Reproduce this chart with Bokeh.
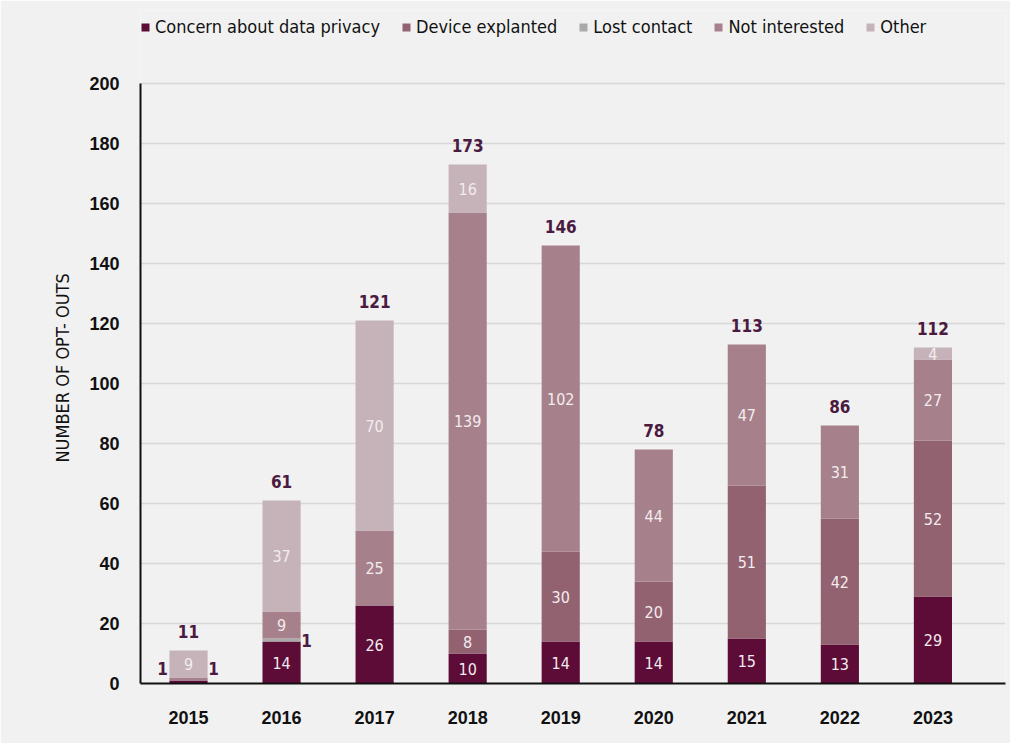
from bokeh.plotting import figure
from bokeh.models import ColumnDataSource, Legend, LegendItem, FixedTicker, Range1d, Title
from bokeh.core.properties import value
from bokeh.embed import file_html
from bokeh.resources import INLINE

years = ["2015", "2016", "2017", "2018", "2019", "2020", "2021", "2022", "2023"]
concern = [1, 14, 26, 10, 14, 14, 15, 13, 29]
device = [0, 0, 0, 8, 30, 20, 51, 42, 52]
lost = [0, 1, 0, 0, 0, 0, 0, 0, 0]
not_int = [1, 9, 25, 139, 102, 44, 47, 31, 27]
other = [9, 37, 70, 16, 0, 0, 0, 0, 4]
series_names = ["Concern about data privacy", "Device explanted", "Lost contact", "Not interested", "Other"]
y_ticks = [0, 20, 40, 60, 80, 100, 120, 140, 160, 180, 200]
y_title = "NUMBER OF OPT- OUTS"

FONT = "DejaVu Sans Condensed"
BFONT = "Liberation Sans"
BG = "#f1f1f1"
colors = ["#5d0b37", "#936270", "#a9a9a9", "#a6818b", "#c6b3b9"]
keys = ["concern", "device", "lost", "not_int", "other"]
series = [concern, device, lost, not_int, other]

xs = list(range(len(years)))
src = ColumnDataSource(dict(x=xs, concern=concern, device=device, lost=lost,
                            not_int=not_int, other=other))

TOP = 10
BOTTOM = 683
p = figure(width=1010, height=743, output_backend="svg", toolbar_location=None,
           x_range=Range1d(-0.516, 8.78), y_range=Range1d(0, 200 * (BOTTOM - TOP) / 600),
           background_fill_color=BG, border_fill_color=BG,
           min_border_left=140, min_border_right=5, min_border_top=TOP,
           min_border_bottom=743 - BOTTOM)
p.outline_line_color = None

renderers = p.vbar_stack(keys, x="x", width=0.41, color=colors, line_color=None, source=src)

# labels
in_x, in_y, in_t = [], [], []
out_x, out_y, out_t, out_off = [], [], [], []
for i in xs:
    base = 0
    for k, s in enumerate(series):
        v = s[i]
        if v <= 0:
            continue
        c = base + v / 2
        if v >= 2:
            in_x.append(i); in_y.append(c); in_t.append(str(v))
        else:
            out_x.append(i); out_y.append(max(c, 5)); out_t.append(str(v))
            out_off.append(-26 if k == 0 else 25)
        base += v
tot = [sum(s[i] for s in series) for i in xs]

p.text(x=in_x, y=in_y, text=in_t, text_font=value(FONT), text_font_size="16px",
       text_color="#f3ecef", text_align="center", text_baseline="middle")
p.text(x=out_x, y=out_y, text=out_t, x_offset=out_off, text_font=value(FONT),
       text_font_size="17px", text_font_style="bold",
       text_color="#4a1a40", text_align="center", text_baseline="middle")
p.text(x=xs, y=tot, text=[str(t) for t in tot], y_offset=-19, text_font=value(FONT),
       text_font_size="17px", text_font_style="bold",
       text_color="#4a1a40", text_align="center", text_baseline="middle")

# axes
p.xaxis.ticker = FixedTicker(ticks=xs)
p.xaxis.major_label_overrides = {i: y for i, y in zip(xs, years)}
p.yaxis.ticker = FixedTicker(ticks=y_ticks)
p.yaxis.bounds = (0, 200)
for ax in (p.xaxis, p.yaxis):
    ax.axis_line_color = "#111111"
    ax.axis_line_width = 2
    ax.major_tick_line_color = None
    ax.minor_tick_line_color = None
    ax.major_label_text_font = BFONT
    ax.major_label_text_font_size = "18px"
    ax.major_label_text_font_style = "bold"
    ax.major_label_text_color = "#111111"
p.xaxis.major_label_standoff = 21
p.yaxis.major_label_standoff = 15

ytitle = Title(text=y_title, align="left", offset=221, standoff=27,
               text_font=FONT, text_font_size="18px", text_font_style="normal",
               text_color="#111111")
p.add_layout(ytitle, "left")

p.xgrid.grid_line_color = None
p.ygrid.grid_line_color = "#d8d8d8"
p.ygrid.grid_line_width = 1.5
p.ygrid.ticker = FixedTicker(ticks=y_ticks)

legend = Legend(items=[LegendItem(label=n, renderers=[r]) for n, r in zip(series_names, renderers)],
                orientation="horizontal",
                background_fill_alpha=0, border_line_color=None,
                label_text_font=FONT, label_text_font_size="18px", label_text_color="#111111",
                label_height=18, glyph_width=10, glyph_height=10, label_standoff=5, spacing=21,
                margin=0, padding=0)
p.add_layout(legend, "center")
legend.location = (0, BOTTOM - 37)

open("out.html", "w").write(file_html(p, INLINE))
